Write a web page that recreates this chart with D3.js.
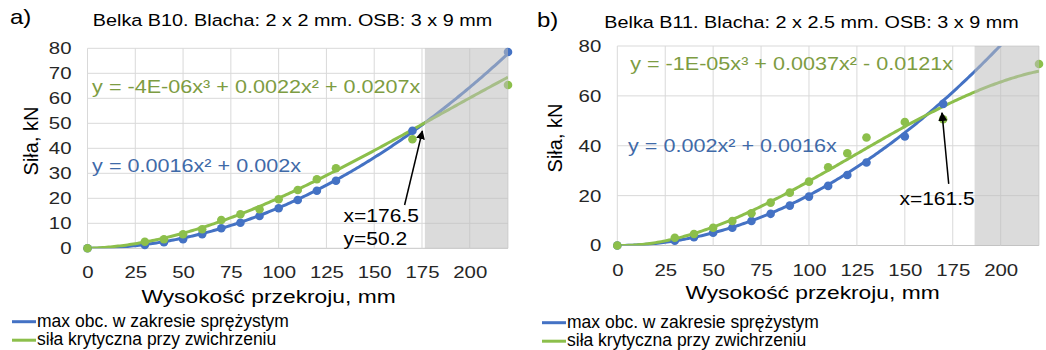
<!DOCTYPE html>
<html>
<head>
<meta charset="utf-8">
<script src="https://cdn.jsdelivr.net/npm/d3@7"></script>
<style>
  body { margin: 0; background: #fff; }
  svg { display: block; font-family: 'Liberation Sans', Arial, sans-serif; }
</style>
</head>
<body>
<div id="chart"></div>
<script>
// ---- data ----
const xTicks = [0, 25, 50, 75, 100, 125, 150, 175, 200]
const yTicksA = [0, 10, 20, 30, 40, 50, 60, 70, 80]
const yTicksB = [0, 20, 40, 60, 80]
const seriesNames = ['max obc. w zakresie sprężystym', 'siła krytyczna przy zwichrzeniu']

// Belka B10
const heightsA = [0, 30, 40, 50, 60, 70, 80, 90, 100, 110, 120, 130, 170, 220]
const elasticA = [0, 1.3, 2.4, 3.6, 5.6, 8.0, 10.2, 12.9, 16.0, 19.3, 23.0, 27.0, 47.0, 78.5]
const bucklingA = [0, 2.6, 3.6, 5.6, 7.6, 11.3, 13.6, 15.6, 19.6, 23.3, 27.6, 32.0, 43.6, 65.3]

// Belka B11
const heightsElasticB = [0, 30, 40, 50, 60, 70, 80, 90, 100, 110, 120, 130, 150, 170]
const elasticB = [0, 1.9, 3.3, 5.1, 7.1, 9.8, 12.7, 16.0, 19.6, 23.9, 28.3, 33.3, 43.7, 56.8]
const heightsBucklingB = [0, 30, 40, 50, 60, 70, 80, 90, 100, 110, 120, 130, 150, 170, 220]
const bucklingB = [0, 3.1, 4.6, 7.1, 9.8, 12.9, 17.2, 21.2, 25.6, 31.4, 37.0, 43.3, 49.5, 50.6, 72.8]

// trendline coefficients as printed on the chart: [x, x², x³]
const fitElasticA = [0.002, 0.0016, 0]
const fitBucklingA = [0.0207, 0.0022, -4e-6]
const fitElasticB = [0.0016, 0.002, 0]
const fitBucklingB = [-0.0121, 0.0037, -1e-5]

const eqTexts = [
  ['y = 0.0016x² + 0.002x', 'y = -4E-06x³ + 0.0022x² + 0.0207x'],
  ['y = 0.002x² + 0.0016x', 'y = -1E-05x³ + 0.0037x² - 0.0121x']
]
const shadeFrom = [176.5, 186.4]
const xMax = 220

// ---- styles ----
const blue = '#4472c4'
const green = '#8cbf4b'
const blueText = '#3f6aa8'
const greenText = '#7d9c42'
const textColor = '#262626'
const gridColor = '#d9d9d9'
const SX = 1.2 // picture is stretched horizontally

const svg = d3.select('#chart').append('svg')
  .attr('width', 1046)
  .attr('height', 350)

svg.append('defs').append('marker')
  .attr('id', 'arrow')
  .attr('viewBox', '0 0 10 10')
  .attr('refX', 9)
  .attr('refY', 5)
  .attr('markerWidth', 6)
  .attr('markerHeight', 6)
  .attr('markerUnits', 'strokeWidth')
  .attr('orient', 'auto')
  .append('path')
  .attr('d', 'M0,0 L10,5 L0,10 z')
  .attr('fill', '#000')

function stext(parent, x, y, str, size, opts = {}) {
  return parent.append('g')
    .attr('transform', 'translate(' + x + ',' + y + ') scale(' + (opts.sx || SX) + ',1)')
    .append('text')
    .attr('text-anchor', opts.anchor || 'start')
    .attr('font-size', size)
    .attr('fill', opts.fill || textColor)
    .text(str)
}

const panels = [
  {
    id: 'a', letter: 'a)', letterX: 10, letterY: 24,
    title: 'Belka B10. Blacha: 2 x 2 mm. OSB: 3 x 9 mm', titleX: 292.5, titleY: 26,
    left: 87.5, right: 508, top: 48.3, bottom: 248.3,
    yTicks: yTicksA,
    elastic: { xs: heightsA, ys: elasticA, fit: fitElasticA },
    buckling: { xs: heightsA, ys: bucklingA, fit: fitBucklingA },
    eqs: eqTexts[0], eqPos: [[2.4, 30.5], [2.4, 62.1]],
    shade: shadeFrom[0],
    notes: ['x=176.5', 'y=50.2'], notePos: [134, 10.5], noteAnchor: 'start', noteStep: 23,
    arrowFrom: [165.9, 17.3], arrowTo: [175.2, 46.9],
    yTitleX: 38, yTitleY: 141, xTitleX: 268.5, xTitleY: 303,
    legendX: 12, legendY: 321.7
  },
  {
    id: 'b', letter: 'b)', letterX: 537, letterY: 27,
    title: 'Belka B11. Blacha: 2 x 2.5 mm. OSB: 3 x 9 mm', titleX: 811.5, titleY: 28,
    left: 617.3, right: 1039, top: 46, bottom: 245.5,
    yTicks: yTicksB,
    elastic: { xs: heightsElasticB, ys: elasticB, fit: fitElasticB },
    buckling: { xs: heightsBucklingB, ys: bucklingB, fit: fitBucklingB },
    eqs: eqTexts[1], eqPos: [[5.6, 37.5], [6.7, 70.5]],
    shade: shadeFrom[1],
    notes: ['x=161.5'], notePos: [166.8, 16.3], noteAnchor: 'middle', noteStep: 23,
    arrowFrom: [172.9, 24.7], arrowTo: [169.4, 53.2],
    yTitleX: 562, yTitleY: 138, xTitleX: 812.5, xTitleY: 299,
    legendX: 542, legendY: 322.7
  }
]

panels.forEach(drawPanel)

function drawPanel(p) {
  const g = svg.append('g').attr('class', 'panel-' + p.id)

  const x = d3.scaleLinear().domain([0, xMax]).range([p.left, p.right])
  const y = d3.scaleLinear().domain([0, 80]).range([p.bottom, p.top])

  g.append('clipPath').attr('id', 'clip-' + p.id)
    .append('rect')
    .attr('x', p.left).attr('y', p.top)
    .attr('width', p.right - p.left).attr('height', p.bottom - p.top)

  // grid
  g.append('g').selectAll('line')
    .data(p.yTicks)
    .enter().append('line')
    .attr('x1', p.left).attr('x2', p.right)
    .attr('y1', d => y(d)).attr('y2', d => y(d))
    .attr('stroke', d => d === 0 ? '#c6c6c6' : gridColor)
    .attr('stroke-width', 1)
  g.append('g').selectAll('line')
    .data(xTicks.concat([xMax]))
    .enter().append('line')
    .attr('x1', d => x(d)).attr('x2', d => x(d))
    .attr('y1', p.top).attr('y2', p.bottom)
    .attr('stroke', gridColor)
    .attr('stroke-width', 1)

  // axes (labels only)
  const yAxis = d3.axisLeft(y).tickValues(p.yTicks).tickSize(0).tickPadding(0)
  const ya = g.append('g')
    .attr('transform', 'translate(' + p.left + ',0)')
    .call(yAxis)
  ya.select('.domain').remove()
  ya.selectAll('text')
    .attr('x', 0)
    .attr('transform', 'translate(-16,0) scale(' + SX + ',1)')
    .attr('font-size', 17)
    .attr('font-family', null)
    .attr('fill', textColor)

  const xAxis = d3.axisBottom(x).tickValues(xTicks).tickSize(0).tickPadding(18)
  const xa = g.append('g')
    .attr('transform', 'translate(0,' + p.bottom + ')')
    .call(xAxis)
  xa.select('.domain').remove()
  xa.selectAll('text')
    .attr('transform', 'scale(' + SX + ',1)')
    .attr('font-size', 17)
    .attr('font-family', null)
    .attr('fill', textColor)

  // trendlines
  const xs = d3.range(0, xMax + 1, 1)
  const poly = c => v => c[0] * v + c[1] * v * v + c[2] * v * v * v
  const line = d3.line().x(d => x(d[0])).y(d => y(d[1]))
  const plot = g.append('g').attr('clip-path', 'url(#clip-' + p.id + ')')

  ;[[p.elastic, blue], [p.buckling, green]].forEach(([s, col]) => {
    const f = poly(s.fit)
    plot.append('path')
      .datum(xs.map(v => [v, f(v)]))
      .attr('d', line)
      .attr('fill', 'none')
      .attr('stroke', col)
      .attr('stroke-width', 3)
  })

  // markers (not clipped, like the spreadsheet does at the edges)
  ;[[p.elastic, blue], [p.buckling, green]].forEach(([s, col]) => {
    g.append('g').selectAll('circle')
      .data(s.xs.map((v, i) => [v, s.ys[i]]))
      .enter().append('circle')
      .attr('cx', d => x(d[0]))
      .attr('cy', d => y(d[1]))
      .attr('r', 4.3)
      .attr('fill', col)
  })

  // shaded range
  g.append('rect')
    .attr('x', x(p.shade))
    .attr('y', p.top)
    .attr('width', x(xMax) - x(p.shade))
    .attr('height', p.bottom - p.top)
    .attr('fill', 'rgb(190,190,190)')
    .attr('fill-opacity', 0.55)

  // equations
  stext(g, x(p.eqPos[0][0]), y(p.eqPos[0][1]), p.eqs[0], 18, { fill: blueText })
  stext(g, x(p.eqPos[1][0]), y(p.eqPos[1][1]), p.eqs[1], 18, { fill: greenText })

  // annotation
  g.append('line')
    .attr('x1', x(p.arrowFrom[0])).attr('y1', y(p.arrowFrom[1]))
    .attr('x2', x(p.arrowTo[0])).attr('y2', y(p.arrowTo[1]))
    .attr('stroke', '#000')
    .attr('stroke-width', 1.5)
    .attr('marker-end', 'url(#arrow)')
  p.notes.forEach((t, i) => {
    stext(g, x(p.notePos[0]), y(p.notePos[1]) + i * p.noteStep, t, 17.5, { anchor: p.noteAnchor, fill: '#000' })
  })

  // titles
  stext(g, p.letterX, p.letterY, p.letter, 20, { fill: '#000' })
  stext(g, p.titleX, p.titleY, p.title, 16.5, { anchor: 'middle', fill: '#000' })
  stext(g, p.xTitleX, p.xTitleY, 'Wysokość przekroju, mm', 19, { anchor: 'middle', fill: '#000' })
  g.append('text')
    .attr('transform', 'translate(' + p.yTitleX + ',' + p.yTitleY + ') rotate(-90)')
    .attr('text-anchor', 'middle')
    .attr('font-size', 20)
    .attr('fill', '#000')
    .text('Siła, kN')

  // legend
  const lg = g.append('g').attr('transform', 'translate(' + p.legendX + ',' + p.legendY + ')')
  ;[blue, green].forEach((col, i) => {
    lg.append('line')
      .attr('x1', 0).attr('x2', 24)
      .attr('y1', i * 18.5).attr('y2', i * 18.5)
      .attr('stroke', col)
      .attr('stroke-width', 3)
    lg.append('text')
      .attr('x', 25)
      .attr('y', i * 18.5 + 5)
      .attr('font-size', 17.5)
      .attr('fill', '#000')
      .text(seriesNames[i])
  })
}
</script>
</body>
</html>
